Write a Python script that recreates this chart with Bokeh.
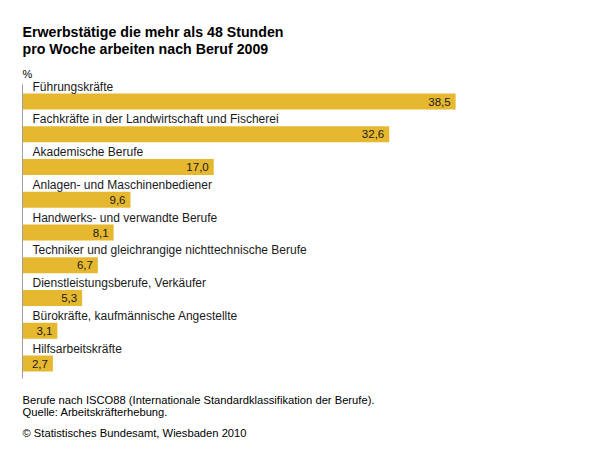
from bokeh.plotting import figure
from bokeh.models import Range1d, Label, ColumnDataSource
from bokeh.embed import file_html
from bokeh.resources import INLINE
from bokeh.core.properties import value

categories = [
    "Führungskräfte",
    "Fachkräfte in der Landwirtschaft und Fischerei",
    "Akademische Berufe",
    "Anlagen- und Maschinenbediener",
    "Handwerks- und verwandte Berufe",
    "Techniker und gleichrangige nichttechnische Berufe",
    "Dienstleistungsberufe, Verkäufer",
    "Bürokräfte, kaufmännische Angestellte",
    "Hilfsarbeitskräfte",
]
values = [38.5, 32.6, 17.0, 9.6, 8.1, 6.7, 5.3, 3.1, 2.7]
value_labels = [f"{v:.1f}".replace(".", ",") for v in values]

title_lines = ["Erwerbstätige die mehr als 48 Stunden", "pro Woche arbeiten nach Beruf 2009"]
unit_label = "%"
footer_lines = [
    "Berufe nach ISCO88 (Internationale Standardklassifikation der Berufe).",
    "Quelle: Arbeitskräfterhebung.",
    "© Statistisches Bundesamt, Wiesbaden 2010",
]

W, H = 612, 450
X0 = 22.0          # pixel x of zero
PX_PER_UNIT = 11.25
Y0 = 101.0         # pixel y of first bar centre
ROW = 32.75        # pixels per row

def dx(px):
    return (px - X0) / PX_PER_UNIT

def dy(py):
    return (py - Y0) / ROW

p = figure(width=W, height=H, min_border=0, output_backend="svg", toolbar_location=None,
           x_axis_type=None, y_axis_type=None,
           x_range=Range1d(dx(0), dx(W)), y_range=Range1d(dy(H), dy(0)))
p.grid.visible = False
p.outline_line_color = None
p.background_fill_color = "white"
p.border_fill_color = "white"

rows = list(range(len(categories)))
src = ColumnDataSource(dict(
    y=rows, right=values, cat=categories, lab=value_labels,
    cat_y=[r - 15.0 / ROW for r in rows],
    lab_x=[v - 5.0 / PX_PER_UNIT for v in values],
))

BAR = "#E6B830"
p.hbar(y="y", left=0, right="right", height=16.0 / ROW, source=src,
       fill_color=BAR, line_color=None)

# axis line
p.segment(x0=[0], y0=[dy(84)], x1=[0], y1=[dy(378)], line_color="#a0a0a0", line_width=1)

FONT = value("Liberation Sans")
p.text(x=dx(32), y="cat_y", text="cat", source=src, text_font=FONT,
       text_font_size="12px", text_baseline="middle", text_align="left", text_color="#1a1a1a")
p.text(x="lab_x", y="y", text="lab", source=src, text_font=FONT,
       text_font_size="11.5px", text_baseline="middle", text_align="right", text_color="#1a1a1a")

def add_label(txt, px, py, size, bold=False):
    p.add_layout(Label(x=dx(px), y=dy(py), text=txt, text_font="Liberation Sans",
                       text_font_size=size, text_font_style="bold" if bold else "normal",
                       text_color="#000000", text_baseline="alphabetic", text_align="left"))

add_label(title_lines[0], 22, 31, "14.2px", bold=True)
add_label(title_lines[1], 22, 48, "14.2px", bold=True)
add_label(unit_label, 22, 73, "11px")
add_label(footer_lines[0], 22, 399, "11.2px")
add_label(footer_lines[1], 22, 411, "11.2px")
add_label(footer_lines[2], 22, 432, "11.2px")

open("out.html", "w").write(file_html(p, INLINE))
